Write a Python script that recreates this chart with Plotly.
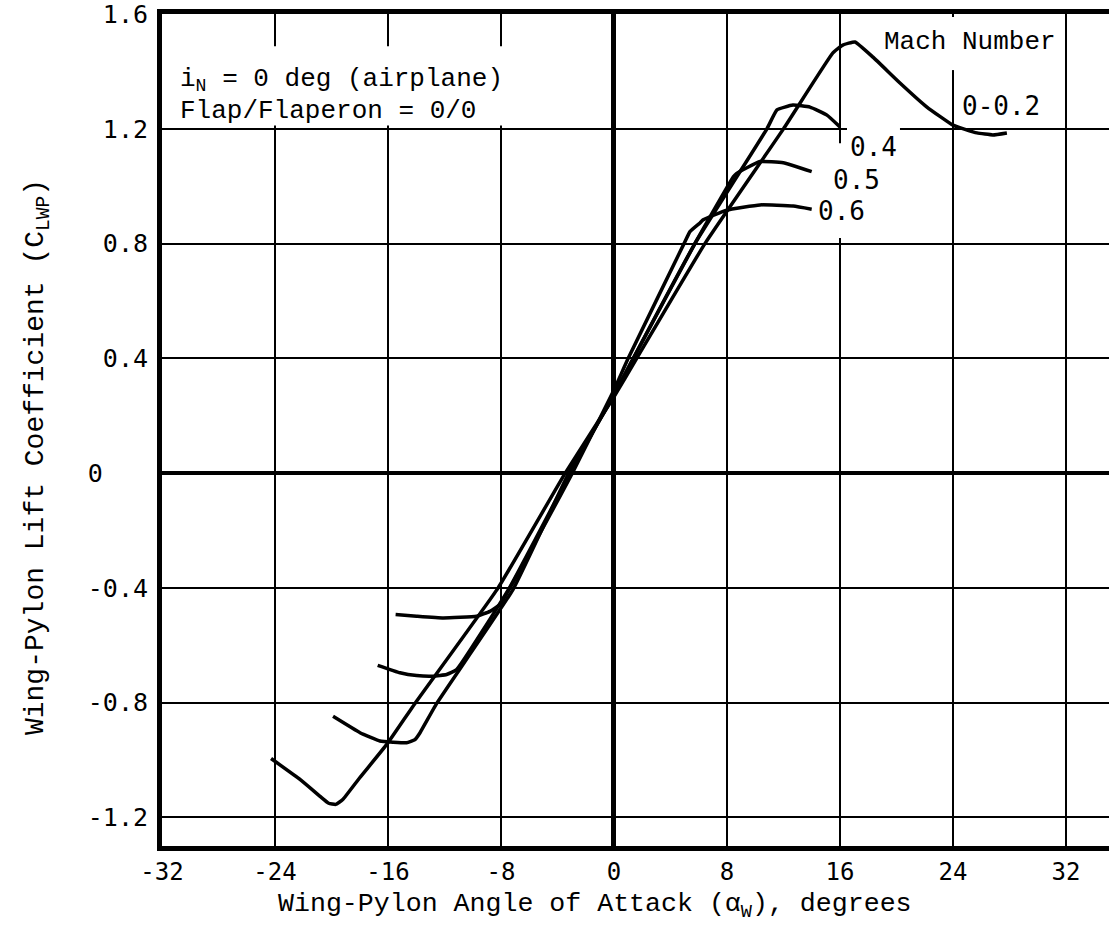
import plotly.graph_objects as go

# ---------------- data ----------------
alpha_m02 = [-24.28, -22.23, -20.81, -20.2, -19.7, -19.2, -18.0, -16.07, -14.09, -8.2, -3.45, 0.0,
             1.61, 6.44, 12.0, 15.5, 16.2, 17.06, 18.34, 20.25, 22.16, 24.0, 25.7, 26.83, 27.82]
cl_m02 = [-0.995, -1.068, -1.127, -1.151, -1.155, -1.138, -1.062, -0.945, -0.803, -0.40, 0.0, 0.266,
          0.40, 0.80, 1.20, 1.465, 1.492, 1.503, 1.45, 1.36, 1.276, 1.213, 1.186, 1.179, 1.186]

alpha_m04 = [-19.89, -17.98, -16.57, -15.65, -14.68, -14.09, -13.73, -12.55, -7.15, -3.2, 0.0,
             1.37, 5.73, 10.83, 11.54, 12.67, 13.88, 15.08, 16.0]
cl_m04 = [-0.848, -0.905, -0.934, -0.938, -0.94, -0.929, -0.905, -0.803, -0.406, 0.0, 0.27,
          0.40, 0.80, 1.20, 1.266, 1.283, 1.276, 1.248, 1.207]

alpha_m05 = [-16.73, -15.15, -13.97, -12.79, -11.85, -11.14, -7.4, -3.1, 0.0, 1.37, 5.73,
             8.45, 8.69, 10.34, 11.99, 14.0]
cl_m05 = [-0.670, -0.696, -0.706, -0.708, -0.702, -0.685, -0.40, 0.0, 0.275, 0.40, 0.80,
          1.033, 1.045, 1.086, 1.082, 1.051]

alpha_m06 = [-15.46, -13.97, -12.08, -9.72, -8.78, -8.07, -2.95, 0.0, 1.01, 4.96, 5.38,
             6.09, 6.32, 7.98, 10.34, 12.69, 14.0]
cl_m06 = [-0.493, -0.499, -0.505, -0.499, -0.482, -0.458, 0.0, 0.29, 0.40, 0.80, 0.842,
          0.872, 0.883, 0.917, 0.935, 0.931, 0.92]

mach_labels = ["0-0.2", "0.4", "0.5", "0.6"]
label_x = [27.4, 18.4, 17.2, 16.14]
label_y = [1.28, 1.137, 1.022, 0.914]

x_ticks = [-32, -24, -16, -8, 0, 8, 16, 24, 32]
x_ticktext = ["-32", "-24", "-16", "-8", "0", "8", "16", "24", "32"]
y_ticks = [-1.2, -0.8, -0.4, 0.0, 0.4, 0.8, 1.2, 1.6]
y_ticktext = ["-1.2", "-0.8", "-0.4", "0\u00a0\u00a0\u00a0", "0.4", "0.8", "1.2", "1.6"]

TYPE = "Liberation Mono"
LETTER = "DejaVu Sans Mono"

fig = go.Figure()
for xs, ys, name in [(alpha_m02, cl_m02, "0-0.2"), (alpha_m04, cl_m04, "0.4"),
                     (alpha_m05, cl_m05, "0.5"), (alpha_m06, cl_m06, "0.6")]:
    fig.add_trace(go.Scatter(x=xs, y=ys, mode="lines", name=name,
                             line=dict(color="black", width=3.5, shape="spline", smoothing=0.35),
                             showlegend=False, hoverinfo="skip"))

# white masks where the grid is interrupted around the text in the reference
masks = [
    (-31.7, -0.4, 1.212, 1.488),
    (23.5, 24.5, 1.405, 1.59),
    (16.5, 20.25, 1.17, 1.225),
    (15.7, 16.3, 0.82, 1.15),
]
for x0, x1, y0, y1 in masks:
    fig.add_shape(type="rect", xref="x", yref="y", x0=x0, x1=x1, y0=y0, y1=y1,
                  fillcolor="white", line=dict(width=0), layer="between")

# annotations
fig.add_annotation(x=-30.87, y=1.37, xref="x", yref="y", xanchor="left", yanchor="middle",
                   text="i<sub>N</sub> = 0 deg (airplane)", showarrow=False,
                   font=dict(family=TYPE, size=26, color="black"))
fig.add_annotation(x=-30.87, y=1.262, xref="x", yref="y", xanchor="left", yanchor="middle",
                   text="Flap/Flaperon = 0/0", showarrow=False,
                   font=dict(family=TYPE, size=26, color="black"))
fig.add_annotation(x=25.2, y=1.503, xref="x", yref="y", xanchor="center", yanchor="middle",
                   text="Mach Number", showarrow=False,
                   font=dict(family=TYPE, size=26, color="black"))
for t, lx, ly in zip(mach_labels, label_x, label_y):
    fig.add_annotation(x=lx, y=ly, xref="x", yref="y", xanchor="center", yanchor="middle",
                       text=t, showarrow=False, font=dict(family=LETTER, size=26, color="black"))

# axis titles
fig.add_annotation(x=0.4572, y=-0.0725, xref="paper", yref="paper", xanchor="center", yanchor="middle",
                   text="Wing-Pylon Angle of Attack (\u03b1<sub>W</sub>), degrees", showarrow=False,
                   font=dict(family=TYPE, size=26.6, color="black"))
fig.add_annotation(x=-0.132, y=0.4675, xref="paper", yref="paper", xanchor="center", yanchor="middle",
                   text="Wing-Pylon Lift Coefficient (C<sub>LWP</sub>)", showarrow=False, textangle=-90,
                   font=dict(family=TYPE, size=28, color="black"))

fig.update_layout(
    width=1109, height=948,
    margin=dict(l=162, r=0, t=14, b=102),
    paper_bgcolor="white", plot_bgcolor="white",
    xaxis=dict(range=[-32, 35.05], tickmode="array", tickvals=x_ticks, ticktext=x_ticktext,
               showgrid=True, gridcolor="black", gridwidth=2.2,
               zeroline=True, zerolinecolor="black", zerolinewidth=4.5,
               showline=True, linecolor="black", linewidth=5, mirror=True,
               ticks="", ticklabelstandoff=0, ticklabeloverflow="allow",
               tickfont=dict(family=LETTER, size=24, color="black")),
    yaxis=dict(range=[-1.3, 1.6005], tickmode="array", tickvals=y_ticks, ticktext=y_ticktext,
               showgrid=True, gridcolor="black", gridwidth=2.2,
               zeroline=True, zerolinecolor="black", zerolinewidth=4,
               showline=True, linecolor="black", linewidth=5, mirror=False,
               ticks="", ticklabelstandoff=4, ticklabeloverflow="allow",
               tickfont=dict(family=LETTER, size=25, color="black")),
)

fig.write_html("out.html", config={"displayModeBar": False},
               post_script="document.body.style.margin='0';")
